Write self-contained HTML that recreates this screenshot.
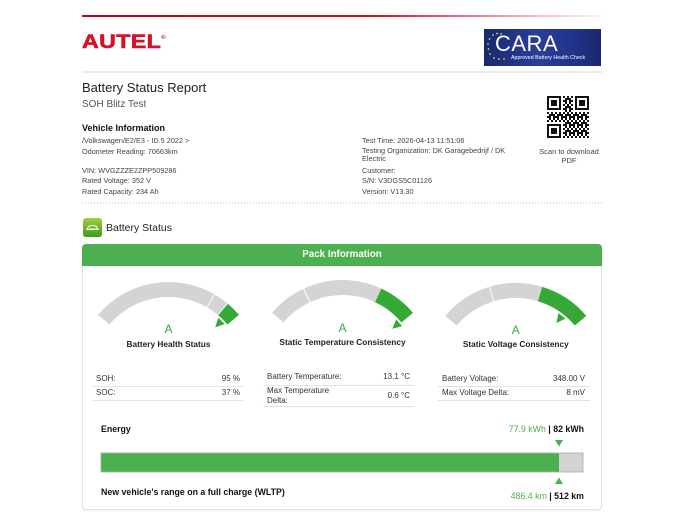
<!DOCTYPE html>
<html>
<head>
<meta charset="utf-8">
<style>
*{margin:0;padding:0;box-sizing:border-box;}
html,body{width:685px;height:514px;overflow:hidden;background:#fff;}
body{position:relative;font-family:"Liberation Sans",Arial,sans-serif;color:#333;}
.t{position:absolute;white-space:nowrap;}
.info{font-size:7.3px;color:#444;line-height:10px;}
.tb{font-size:8px;color:#333;line-height:10px;}
.gt{font-size:8.3px;font-weight:bold;color:#222;line-height:12px;text-align:center;width:170px;}
.ga{font-size:12px;color:#3caa3c;line-height:12px;text-align:center;width:40px;}
</style>
</head>
<body>

<!-- top red line -->
<div style="position:absolute;left:82px;top:15px;width:520px;height:2px;background:linear-gradient(90deg,#c4001a 0%,#cf0d22 55%,#efb3ba 85%,#fdf2f3 100%);"></div>

<!-- AUTEL logo -->
<div class="t" style="left:82px;top:31px;height:24px;line-height:24px;font-size:19px;font-weight:bold;color:#d3122b;-webkit-text-stroke:0.6px #d3122b;transform:scaleX(1.22);transform-origin:left center;letter-spacing:0.3px;">AUTEL<span style="font-size:5px;vertical-align:top;line-height:14px;-webkit-text-stroke:0;">®</span></div>

<!-- CARA box -->
<div style="position:absolute;left:484px;top:29px;width:117px;height:37px;background:linear-gradient(90deg,#1a2870 0%,#2a3d98 45%,#22338a 75%,#1a2870 100%);overflow:hidden;">
  <div class="t" style="left:11px;top:3px;font-size:22px;line-height:24px;color:#fff;letter-spacing:0.5px;">CARA</div>
  <div class="t" style="left:27px;top:26px;font-size:5.3px;line-height:7px;color:#fff;">Approved Battery Health Check</div>
  <svg style="position:absolute;left:0;top:0;" width="30" height="37">
    <g fill="#f2d33a">
      <circle cx="9" cy="6" r="0.9"/><circle cx="13" cy="4.5" r="0.9"/><circle cx="17" cy="5" r="0.9"/>
      <circle cx="5.5" cy="10" r="0.9"/><circle cx="4" cy="15" r="0.9"/><circle cx="4.5" cy="20" r="0.9"/>
      <circle cx="6" cy="25" r="0.9"/><circle cx="10" cy="29" r="0.9"/><circle cx="15" cy="30" r="0.9"/><circle cx="20" cy="30" r="0.9"/>
    </g>
  </svg>
</div>

<!-- gray separator -->
<div style="position:absolute;left:82px;top:71px;width:520px;height:2px;background:#ececec;"></div>

<!-- title -->
<div class="t" style="left:82px;top:80px;font-size:13px;line-height:16px;color:#222;">Battery Status Report</div>
<div class="t" style="left:82px;top:98px;font-size:10px;line-height:14px;color:#555;">SOH Blitz Test</div>

<!-- QR code -->
<svg style="position:absolute;left:547px;top:96px;" width="42" height="42" viewBox="0 0 42 42">
  <defs>
    <pattern id="qp" width="8" height="8" patternUnits="userSpaceOnUse">
      <rect x="0" y="0" width="2" height="2" fill="#111"/><rect x="4" y="0" width="2" height="4" fill="#111"/>
      <rect x="2" y="2" width="2" height="2" fill="#111"/><rect x="6" y="2" width="2" height="2" fill="#111"/>
      <rect x="0" y="4" width="4" height="2" fill="#111"/><rect x="6" y="4" width="2" height="4" fill="#111"/>
      <rect x="2" y="6" width="2" height="2" fill="#111"/>
    </pattern>
  </defs>
  <rect width="42" height="42" fill="url(#qp)"/>
  <g>
    <rect x="0" y="0" width="16" height="16" fill="#fff"/><rect x="0" y="0" width="14" height="14" fill="#111"/><rect x="2" y="2" width="10" height="10" fill="#fff"/><rect x="4" y="4" width="6" height="6" fill="#111"/>
    <rect x="26" y="0" width="16" height="16" fill="#fff"/><rect x="28" y="0" width="14" height="14" fill="#111"/><rect x="30" y="2" width="10" height="10" fill="#fff"/><rect x="32" y="4" width="6" height="6" fill="#111"/>
    <rect x="0" y="26" width="16" height="16" fill="#fff"/><rect x="0" y="28" width="14" height="14" fill="#111"/><rect x="2" y="30" width="10" height="10" fill="#fff"/><rect x="4" y="32" width="6" height="6" fill="#111"/>
  </g>
</svg>
<div class="t" style="left:529px;top:148px;width:80px;text-align:center;font-size:7.5px;line-height:8.5px;color:#444;">Scan to download<br>PDF</div>

<!-- Vehicle information -->
<div class="t" style="left:82px;top:122px;font-size:9px;font-weight:bold;line-height:12px;color:#111;">Vehicle Information</div>
<div class="t info" style="left:82px;top:136px;">/Volkswagen/E2/E3 - ID.5 2022 &gt;</div>
<div class="t info" style="left:82px;top:147px;">Odometer Reading: 70663km</div>
<div class="t info" style="left:82px;top:165.5px;">VIN: WVGZZZE2ZPP509286</div>
<div class="t info" style="left:82px;top:176px;">Rated Voltage: 352 V</div>
<div class="t info" style="left:82px;top:187px;">Rated Capacity: 234 Ah</div>

<div class="t info" style="left:362px;top:136px;">Test Time: 2026-04-13 11:51:06</div>
<div class="t info" style="left:362px;top:147px;line-height:8px;">Testing Organization: DK Garagebedrijf / DK<br>Electric</div>
<div class="t info" style="left:362px;top:165.5px;">Customer:</div>
<div class="t info" style="left:362px;top:176px;">S/N: V3DGS5C01126</div>
<div class="t info" style="left:362px;top:187px;">Version: V13.30</div>

<!-- dotted line -->
<svg style="position:absolute;left:82px;top:202px;" width="520" height="2"><line x1="0" y1="1" x2="520" y2="1" stroke="#bdbdbd" stroke-width="1" stroke-dasharray="1 2"/></svg>

<!-- Battery status heading -->
<svg style="position:absolute;left:83px;top:218px;" width="19" height="19" viewBox="0 0 19 19">
  <defs><linearGradient id="ig" x1="0" y1="0" x2="0" y2="1"><stop offset="0" stop-color="#9ed23c"/><stop offset="1" stop-color="#3f9a1c"/></linearGradient></defs>
  <rect width="19" height="19" rx="3" fill="url(#ig)"/>
  <path d="M4 11 L5.5 8.5 Q9.5 6.5 13.5 8.5 L15 11 Z" fill="none" stroke="#fff" stroke-width="1"/>
  <line x1="3.5" y1="11.5" x2="15.5" y2="11.5" stroke="#fff" stroke-width="1"/>
</svg>
<div class="t" style="left:106px;top:221px;font-size:10.5px;line-height:14px;color:#222;">Battery Status</div>

<!-- Card -->
<div style="position:absolute;left:82px;top:244px;width:520px;height:266px;border:1px solid #e2e2e2;border-radius:4px;box-shadow:0 1px 2px rgba(0,0,0,0.06);"></div>
<div style="position:absolute;left:82px;top:244px;width:520px;height:22px;background:#4caf50;border-radius:4px 4px 0 0;"></div>
<div class="t" style="left:82px;top:248px;width:520px;text-align:center;font-size:9.8px;font-weight:bold;line-height:14px;color:#fff;">Pack Information</div>

<!-- Gauges -->
<svg style="position:absolute;left:0;top:0;" width="685" height="514">
  <g fill="none" stroke-width="15">
    <!-- gauge 1 -->
    <circle cx="168.5" cy="374" r="84.5" stroke="#d4d4d4" stroke-dasharray="117.47 1000" transform="rotate(-140 168.5 374)"/>
    <circle cx="168.5" cy="374" r="84.5" stroke="#d4d4d4" stroke-dasharray="13.72 1000" transform="rotate(-59.65 168.5 374)"/>
    <circle cx="168.5" cy="374" r="84.5" stroke="#35a835" stroke-dasharray="14.45 1000" transform="rotate(-49.8 168.5 374)"/>
    <!-- gauge 2 -->
    <circle cx="342.5" cy="372" r="84.5" stroke="#d4d4d4" stroke-dasharray="36.35 1000" transform="rotate(-140 342.5 372)"/>
    <circle cx="342.5" cy="372" r="84.5" stroke="#d4d4d4" stroke-dasharray="73.22 1000" transform="rotate(-114.65 342.5 372)"/>
    <circle cx="342.5" cy="372" r="84.5" stroke="#35a835" stroke-dasharray="36.87 1000" transform="rotate(-65 342.5 372)"/>
    <!-- gauge 3 -->
    <circle cx="515.8" cy="375" r="84.5" stroke="#d4d4d4" stroke-dasharray="48.67 1000" transform="rotate(-140 515.8 375)"/>
    <circle cx="515.8" cy="375" r="84.5" stroke="#d4d4d4" stroke-dasharray="48.67 1000" transform="rotate(-106.3 515.8 375)"/>
    <circle cx="515.8" cy="375" r="84.5" stroke="#35a835" stroke-dasharray="49.11 1000" transform="rotate(-73.3 515.8 375)"/>
  </g>
  <g fill="#35a835">
    <polygon points="-4.5,-75 4.5,-75 0,-66" transform="translate(168.5 374) rotate(45)"/>
    <polygon points="-4.5,-75 4.5,-75 0,-66" transform="translate(342.5 372) rotate(49)"/>
    <polygon points="-4.5,-75 4.5,-75 0,-66" transform="translate(515.8 375) rotate(38)"/>
  </g>
  <!-- table lines -->
  <g stroke="#e3e3e3" stroke-width="1">
    <line x1="93" y1="386.5" x2="243" y2="386.5"/>
    <line x1="93" y1="400.5" x2="243" y2="400.5"/>
    <line x1="263" y1="385.5" x2="414" y2="385.5"/>
    <line x1="263" y1="406.5" x2="414" y2="406.5"/>
    <line x1="438" y1="386.5" x2="590" y2="386.5"/>
    <line x1="438" y1="400.5" x2="590" y2="400.5"/>
  </g>
  <!-- energy bar -->
  <rect x="101" y="453" width="482" height="19" fill="#d3d3d3" stroke="#a8a8a8" stroke-width="0.8"/>
  <rect x="101.4" y="453.4" width="457.6" height="18.2" fill="#4caf50"/>
  <polygon points="555,440 563,440 559,446.5" fill="#4caf50"/>
  <polygon points="555,484 563,484 559,477.5" fill="#4caf50"/>
</svg>

<!-- gauge labels -->
<div class="t ga" style="left:148.5px;top:323px;">A</div>
<div class="t gt" style="left:83.5px;top:337.5px;">Battery Health Status</div>
<div class="t ga" style="left:322.5px;top:322px;">A</div>
<div class="t gt" style="left:257.5px;top:335.5px;">Static Temperature Consistency</div>
<div class="t ga" style="left:495.8px;top:324px;">A</div>
<div class="t gt" style="left:430.8px;top:337.5px;">Static Voltage Consistency</div>

<!-- tables -->
<div class="t tb" style="left:96px;top:374px;">SOH:</div>
<div class="t tb" style="left:180px;top:374px;width:60px;text-align:right;">95 %</div>
<div class="t tb" style="left:96px;top:388px;">SOC:</div>
<div class="t tb" style="left:180px;top:388px;width:60px;text-align:right;">37 %</div>

<div class="t tb" style="left:267px;top:372px;">Battery Temperature:</div>
<div class="t tb" style="left:350px;top:372px;width:60px;text-align:right;">13.1 °C</div>
<div class="t tb" style="left:267px;top:386px;line-height:9.5px;">Max Temperature<br>Delta:</div>
<div class="t tb" style="left:350px;top:391px;width:60px;text-align:right;">0.6 °C</div>

<div class="t tb" style="left:442px;top:374px;">Battery Voltage:</div>
<div class="t tb" style="left:525px;top:374px;width:60px;text-align:right;">348.00 V</div>
<div class="t tb" style="left:442px;top:388px;">Max Voltage Delta:</div>
<div class="t tb" style="left:525px;top:388px;width:60px;text-align:right;">8 mV</div>

<!-- energy -->
<div class="t" style="left:101px;top:423px;font-size:8.8px;font-weight:bold;line-height:12px;color:#111;">Energy</div>
<div class="t" style="left:424px;top:423px;width:160px;text-align:right;font-size:8.8px;line-height:12px;"><span style="color:#4caf50;">77.9 kWh</span> <b style="color:#111;">| 82 kWh</b></div>
<div class="t" style="left:101px;top:486px;font-size:8.8px;font-weight:bold;line-height:12px;color:#111;">New vehicle's range on a full charge (WLTP)</div>
<div class="t" style="left:424px;top:490px;width:160px;text-align:right;font-size:8.8px;line-height:12px;"><span style="color:#4caf50;">486.4 km</span> <b style="color:#111;">| 512 km</b></div>

</body>
</html>
